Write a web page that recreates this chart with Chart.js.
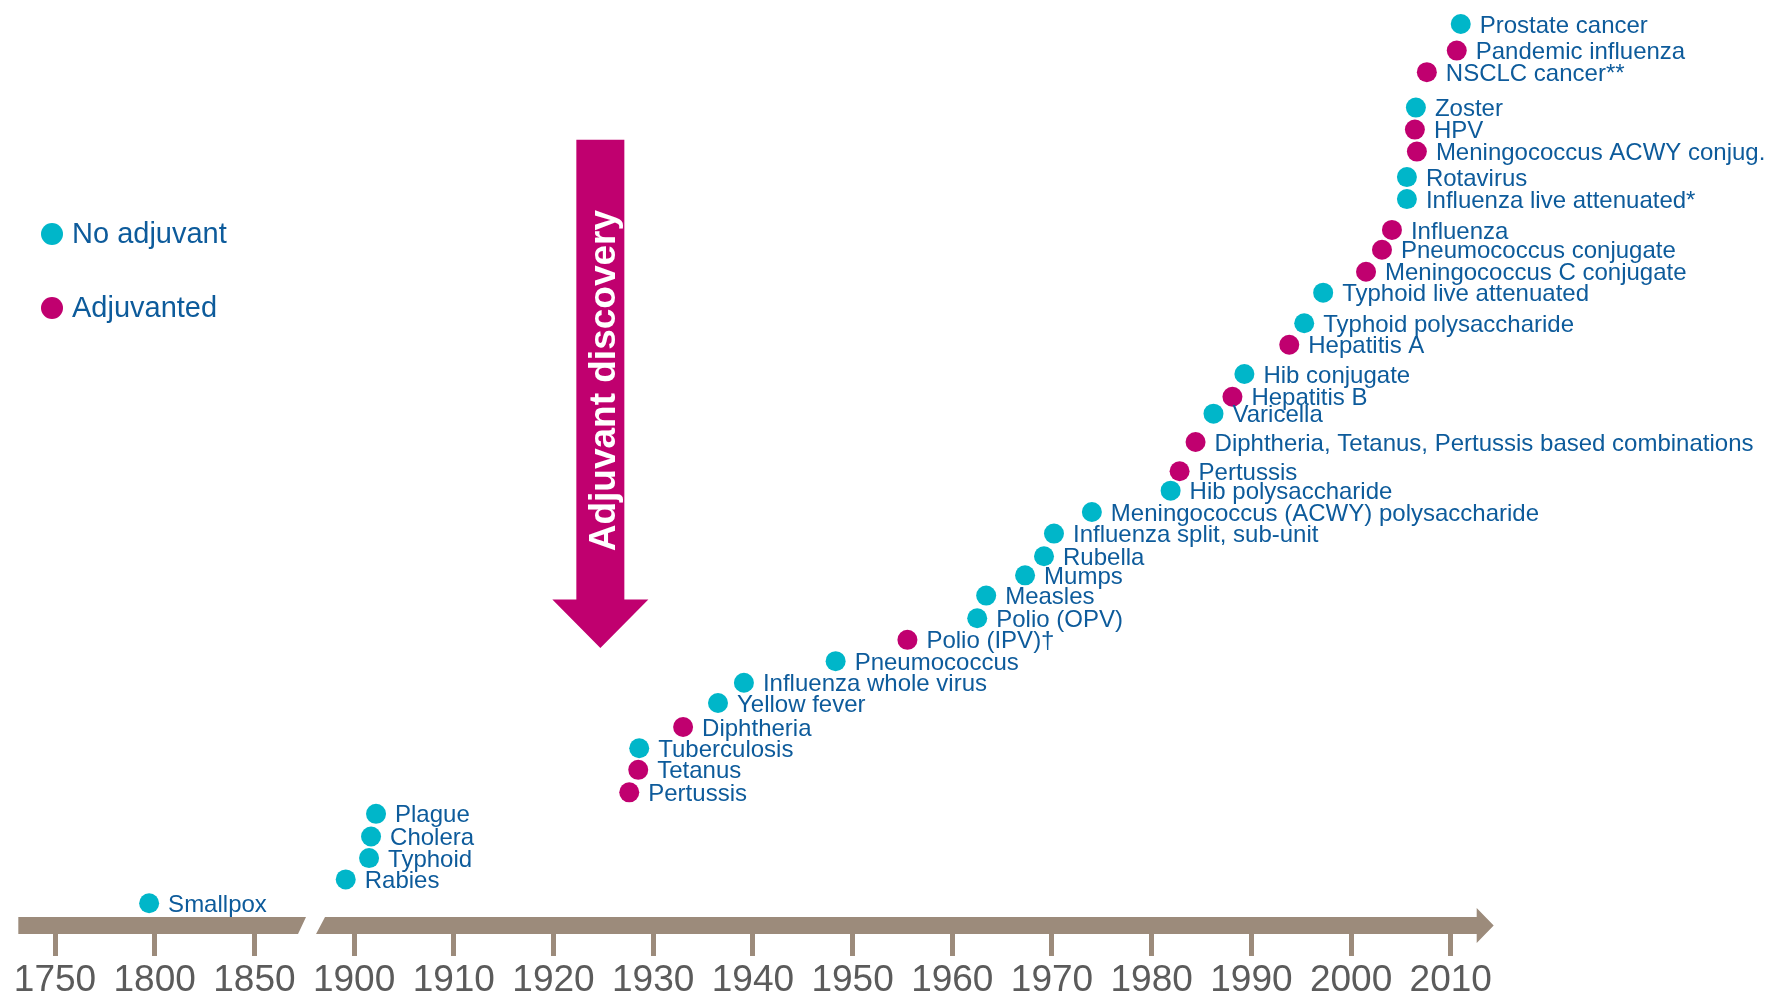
<!DOCTYPE html>
<html>
<head>
<meta charset="utf-8">
<script src="https://cdn.jsdelivr.net/npm/chart.js@4.4.1/dist/chart.umd.min.js"></script>
<style>
  html, body { margin: 0; padding: 0; background: #fff; }
  canvas { display: block; }
</style>
</head>
<body>
<canvas id="timeline" width="1772" height="997"></canvas>
<script>
const tickLabels = ['1750', '1800', '1850', '1900', '1910', '1920', '1930', '1940',
  '1950', '1960', '1970', '1980', '1990', '2000', '2010'];

const vaccines = ['Smallpox', 'Rabies', 'Typhoid', 'Cholera', 'Plague',
  'Pertussis', 'Tetanus', 'Tuberculosis', 'Diphtheria', 'Yellow fever',
  'Influenza whole virus', 'Pneumococcus', 'Polio (IPV)\u2020', 'Polio (OPV)', 'Measles',
  'Mumps', 'Rubella', 'Influenza split, sub-unit', 'Meningococcus (ACWY) polysaccharide', 'Hib polysaccharide',
  'Pertussis', 'Diphtheria, Tetanus, Pertussis based combinations', 'Varicella', 'Hepatitis B', 'Hib conjugate',
  'Hepatitis A', 'Typhoid polysaccharide', 'Typhoid live attenuated', 'Meningococcus C conjugate', 'Pneumococcus conjugate',
  'Influenza', 'Influenza live attenuated*', 'Rotavirus', 'Meningococcus ACWY conjug.', 'HPV',
  'Zoster', 'NSCLC cancer**', 'Pandemic influenza', 'Prostate cancer'];

// year
const years = [1797.2, 1895.8, 1901.5, 1901.7, 1902.2,
  1927.6, 1928.5, 1928.6, 1933.0, 1936.5,
  1939.1, 1948.3, 1955.5, 1962.5, 1963.4,
  1967.3, 1969.2, 1970.2, 1974.0, 1981.9,
  1982.8, 1984.4, 1986.2, 1988.1, 1989.3,
  1993.8, 1995.3, 1997.2, 2001.5, 2003.1,
  2004.1, 2005.6, 2005.6, 2006.6, 2006.4,
  2006.5, 2007.6, 2010.6, 2011.0];

// stacking level of each entry above the time axis
const levels = [1.40, 2.48, 3.45, 4.43, 5.46,
  6.44, 7.46, 8.44, 9.41, 10.50,
  11.42, 12.40, 13.37, 14.35, 15.38,
  16.30, 17.17, 18.20, 19.18, 20.15,
  21.03, 22.36, 23.65, 24.42, 25.45,
  26.78, 27.76, 29.15, 30.10, 31.10,
  32.00, 33.40, 34.40, 35.56, 36.56,
  37.56, 39.17, 40.15, 41.36];

const adjuvanted = [false, false, false, false, false,
  true, true, false, true, false,
  false, false, true, false, false,
  false, false, false, false, false,
  true, true, false, true, false,
  true, false, false, true, true,
  true, false, false, true, true,
  false, true, true, false];

const seriesNames = ['No adjuvant', 'Adjuvanted'];
const seriesColors = ['#00b6c9', '#c0006f'];

const textBlue = '#0d5b9b';
const fontFamily = '"Liberation Sans", Arial, Helvetica, sans-serif';

// broken axis: 50-year steps up to 1900, then 10-year steps
function yearToPos(year) {
  return year < 1900 ? (year - 1750) / 50 : 3 + (year - 1900) / 10;
}

const datasets = seriesNames.map((name, s) => ({
  label: name,
  data: vaccines
    .map((v, i) => ({ x: yearToPos(years[i]), y: levels[i], name: v, adj: adjuvanted[i] }))
    .filter(p => p.adj === (s === 1)),
  backgroundColor: seriesColors[s],
  borderWidth: 0,
  pointRadius: 10,
  pointHoverRadius: 10,
  clip: false
}));

// thick brown time bar with a break and an arrow head
const timeBar = {
  id: 'timeBar',
  beforeDatasetsDraw(chart) {
    const { ctx, chartArea, scales: { x } } = chart;
    const bottom = chartArea.bottom;
    const top = bottom - 17;
    const left = x.getPixelForValue(-0.368);
    const brk = x.getPixelForValue(2.563);
    const end = x.getPixelForValue(14.26);
    ctx.save();
    ctx.fillStyle = '#9c8b7b';
    ctx.beginPath();
    ctx.moveTo(left, top);
    ctx.lineTo(brk - 4.5, top);
    ctx.lineTo(brk - 12.5, bottom);
    ctx.lineTo(left, bottom);
    ctx.closePath();
    ctx.fill();
    ctx.beginPath();
    ctx.moveTo(brk + 14.5, top);
    ctx.lineTo(end, top);
    ctx.lineTo(end, top - 9);
    ctx.lineTo(end + 17, (top + bottom) / 2);
    ctx.lineTo(end, bottom + 9);
    ctx.lineTo(end, bottom);
    ctx.lineTo(brk + 5.5, bottom);
    ctx.closePath();
    ctx.fill();
    ctx.restore();
  }
};

// "Adjuvant discovery" arrow
const discoveryArrow = {
  id: 'discoveryArrow',
  beforeDatasetsDraw(chart) {
    const { ctx, scales: { x, y } } = chart;
    const cx = x.getPixelForValue(yearToPos(1924.7));
    const top = y.getPixelForValue(36.1);
    const base = y.getPixelForValue(15.2);
    const tip = y.getPixelForValue(13.0);
    const half = 24, headHalf = 48;
    ctx.save();
    ctx.fillStyle = seriesColors[1];
    ctx.beginPath();
    ctx.moveTo(cx - half, top);
    ctx.lineTo(cx + half, top);
    ctx.lineTo(cx + half, base);
    ctx.lineTo(cx + headHalf, base);
    ctx.lineTo(cx, tip);
    ctx.lineTo(cx - headHalf, base);
    ctx.lineTo(cx - half, base);
    ctx.closePath();
    ctx.fill();
    ctx.translate(cx + 15, (top + base) / 2 + 11);
    ctx.rotate(-Math.PI / 2);
    ctx.fillStyle = '#ffffff';
    ctx.font = 'bold 37px ' + fontFamily;
    ctx.textAlign = 'center';
    ctx.textBaseline = 'alphabetic';
    ctx.fillText('Adjuvant discovery', 0, 0);
    ctx.restore();
  }
};

// vaccine names next to the dots
const pointLabels = {
  id: 'pointLabels',
  afterDatasetsDraw(chart) {
    const ctx = chart.ctx;
    ctx.save();
    ctx.font = '24px ' + fontFamily;
    ctx.fillStyle = textBlue;
    ctx.textBaseline = 'middle';
    chart.data.datasets.forEach((ds, i) => {
      chart.getDatasetMeta(i).data.forEach((pt, j) => {
        ctx.fillText(ds.data[j].name, pt.x + 19, pt.y + 2);
      });
    });
    ctx.restore();
  }
};

// legend on the left
const sideLegend = {
  id: 'sideLegend',
  afterDraw(chart) {
    const { ctx, chartArea } = chart;
    ctx.save();
    ctx.font = '29px ' + fontFamily;
    ctx.textBaseline = 'middle';
    chart.data.datasets.forEach((ds, i) => {
      const cy = chartArea.top + 234 + i * 74;
      ctx.fillStyle = ds.backgroundColor;
      ctx.beginPath();
      ctx.arc(chartArea.left + 52, cy, 11, 0, Math.PI * 2);
      ctx.fill();
      ctx.fillStyle = textBlue;
      ctx.fillText(ds.label, chartArea.left + 72, cy + 1);
    });
    ctx.restore();
  }
};

new Chart(document.getElementById('timeline'), {
  type: 'scatter',
  data: { datasets: datasets },
  options: {
    responsive: false,
    animation: false,
    events: [],
    layout: { padding: 0, autoPadding: false },
    plugins: {
      legend: { display: false },
      tooltip: { enabled: false }
    },
    scales: {
      x: {
        type: 'linear',
        min: -0.5517,
        max: 17.222,
        afterBuildTicks: scale => {
          scale.ticks = tickLabels.map((t, i) => ({ value: i }));
        },
        afterFit: scale => { scale.height = 63; },
        grid: {
          display: true,
          drawOnChartArea: false,
          drawTicks: true,
          tickLength: 22,
          tickWidth: 5,
          tickColor: '#9c8b7b'
        },
        border: { display: false },
        ticks: {
          padding: 6,
          color: '#5b5b5b',
          autoSkip: false,
          maxRotation: 0,
          font: { size: 37, family: fontFamily, lineHeight: 1 },
          callback: value => tickLabels[value]
        }
      },
      y: {
        type: 'linear',
        display: false,
        min: 0,
        max: 42.45
      }
    }
  },
  plugins: [timeBar, discoveryArrow, pointLabels, sideLegend]
});
</script>
</body>
</html>
